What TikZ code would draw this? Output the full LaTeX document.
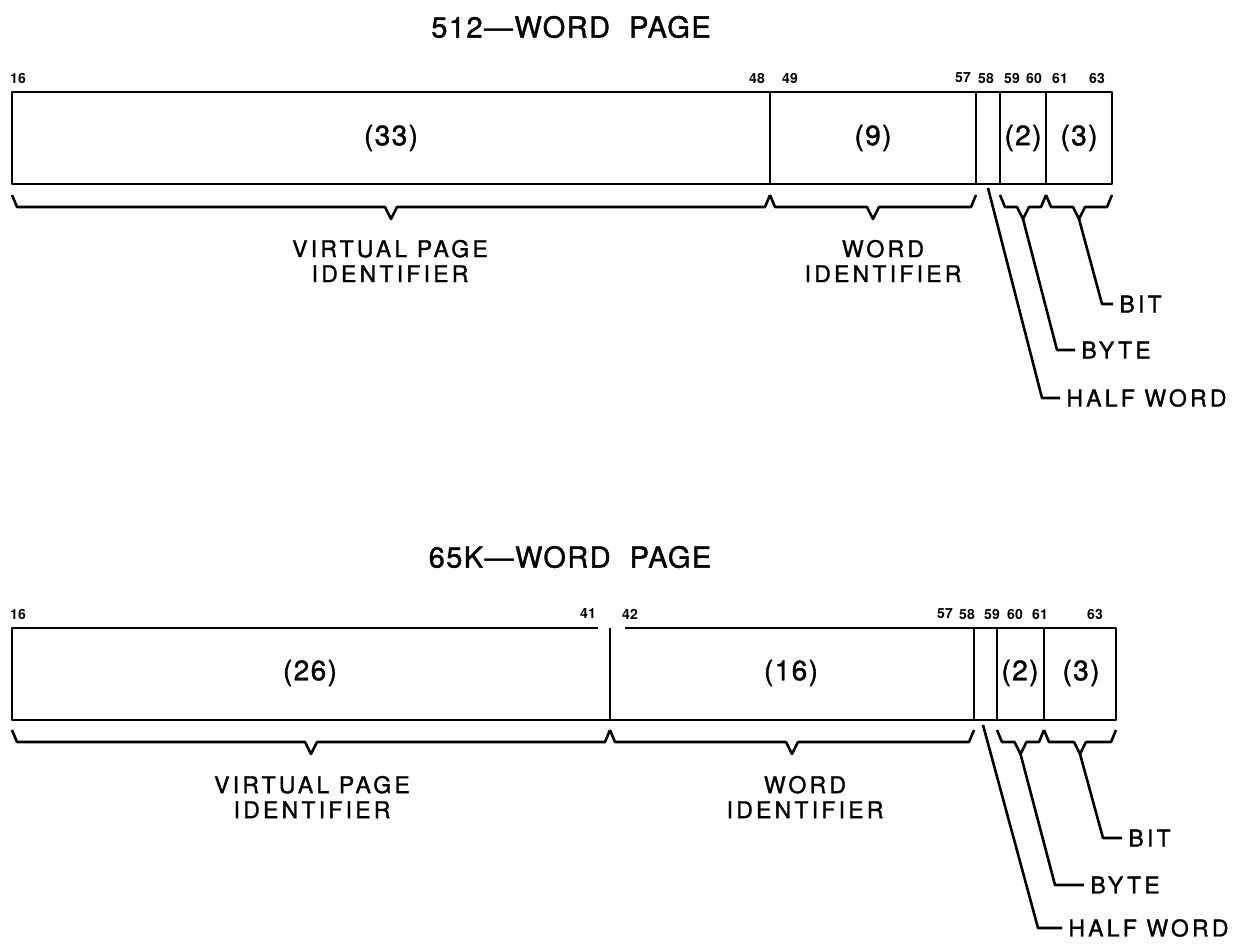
\documentclass[tikz,border=0pt]{standalone}
\usepackage{fontspec}
\setmainfont{TeX Gyre Heros}
\newfontfamily\lettering[LetterSpace=14,FakeBold=1.3]{TeX Gyre Heros}
\newfontfamily\plainlettering[LetterSpace=5,FakeBold=1.3]{TeX Gyre Heros}
\usetikzlibrary{positioning}
% brace under a field: left x, right x, top y, name of the tip
\newcommand{\fieldbrace}[4]{%
  \draw[brk] (#1,#3) -- ({#1+5},{#3+12}) -- ({(#1+#2)/2-6},{#3+12})
    -- ({(#1+#2)/2},{#3+24}) coordinate (#4) -- ({(#1+#2)/2+6},{#3+12})
    -- ({#2-5},{#3+12}) -- (#2,#3);}

\begin{document}
\begin{tikzpicture}[x=0.5pt, y=-0.5pt, line join=round,
  reg/.style={line width=1.4pt},
  brk/.style={line width=1.3pt},
  lead/.style={line width=1.3pt},
  bitno/.style={font=\fontsize{7}{7}\selectfont\bfseries, inner sep=0pt},
  fld/.style={font=\plainlettering\fontsize{14}{16}\selectfont, inner sep=0pt},
  fldname/.style={font=\lettering\fontsize{11.5}{12.5}\selectfont, align=center, inner sep=0pt},
  ttl/.style={font=\plainlettering\fontsize{14.5}{16}\selectfont, inner sep=0pt},
  tag/.style={font=\lettering\fontsize{11.5}{12}\selectfont, anchor=west, inner xsep=3pt, inner ysep=0pt}]
\useasboundingbox (0,0) rectangle (1247,943);

% ---- 512-word page
\node[ttl] (ttlA) at (571,27) {512—WORD\ \ PAGE};
\foreach \x/\b in {18/16, 757/48, 790/49, 963/57, 986/58, 1012/59, 1034/60, 1060/61, 1097/63}
  \node[bitno] (nA\b) at (\x,78) {\b};
\draw[reg] (12,92) rectangle (1112,184);
\draw[reg] (770,92) -- (770,184) (976,92) -- (976,184)
  (1000,92) -- (1000,184) (1046,92) -- (1046,184);
\node[fld] (fA1) at (391,138) {(33)};
\node[fld] (fA2) at (873,138) {(9)};
\node[fld] (fA3) at (1023,138) {(2)};
\node[fld] (fA4) at (1079,138) {(3)};
\fieldbrace{12}{770}{195}{vpA}
\fieldbrace{770}{976}{195}{wiA}
\fieldbrace{1000}{1046}{195}{byA}
\fieldbrace{1046}{1112}{195}{btA}
\node[fldname] (cvA) at (390,261) {VIRTUAL PAGE\\IDENTIFIER};
\node[fldname] (cwA) at (883,261) {WORD\\IDENTIFIER};
\coordinate (hwA) at (988,188);
\node[tag] (tBitA) at (1113,304) {BIT};
\node[tag] (tByteA) at (1075,350) {BYTE};
\node[tag] (tHalfA) at (1060,398) {HALF WORD};
\coordinate (kBitA) at (1102,304);
\coordinate (kByteA) at (1057,350);
\coordinate (kHalfA) at (1042,398);
\draw[lead] (btA) -- (kBitA) -- (tBitA.west);
\draw[lead] (byA) -- (kByteA) -- (tByteA.west);
\draw[lead] (hwA) -- (kHalfA) -- (tHalfA.west);

% ---- 65K-word page
\node[ttl] (ttlB) at (570,557) {65K—WORD\ \ PAGE};
\foreach \x/\b in {18/16, 588/41, 630/42, 945/57, 967/58, 992/59, 1015/60, 1040/61, 1095/63}
  \node[bitno] (nB\b) at (\x,614) {\b};
\draw[reg] (598,628) -- (12,628) -- (12,720) -- (1116,720) -- (1116,628) -- (625,628);
\draw[reg] (610,628) -- (610,720) (974,628) -- (974,720)
  (997,628) -- (997,720) (1044,628) -- (1044,720);
\node[fld] (fB1) at (310,673) {(26)};
\node[fld] (fB2) at (791,673) {(16)};
\node[fld] (fB3) at (1020,673) {(2)};
\node[fld] (fB4) at (1081,673) {(3)};
\fieldbrace{12}{610}{730}{vpB}
\fieldbrace{610}{974}{730}{wiB}
\fieldbrace{997}{1044}{730}{byB}
\fieldbrace{1044}{1116}{730}{btB}
\node[fldname] (cvB) at (312,797) {VIRTUAL PAGE\\IDENTIFIER};
\node[fldname] (cwB) at (805,797) {WORD\\IDENTIFIER};
\coordinate (hwB) at (983,725);
\node[tag] (tBitB) at (1122,838) {BIT};
\node[tag] (tByteB) at (1084,885) {BYTE};
\node[tag] (tHalfB) at (1062,928) {HALF WORD};
\coordinate (kBitB) at (1103,838);
\coordinate (kByteB) at (1055,885);
\coordinate (kHalfB) at (1038,928);
\draw[lead] (btB) -- (kBitB) -- (tBitB.west);
\draw[lead] (byB) -- (kByteB) -- (tByteB.west);
\draw[lead] (hwB) -- (kHalfB) -- (tHalfB.west);
\end{tikzpicture}
\end{document}
